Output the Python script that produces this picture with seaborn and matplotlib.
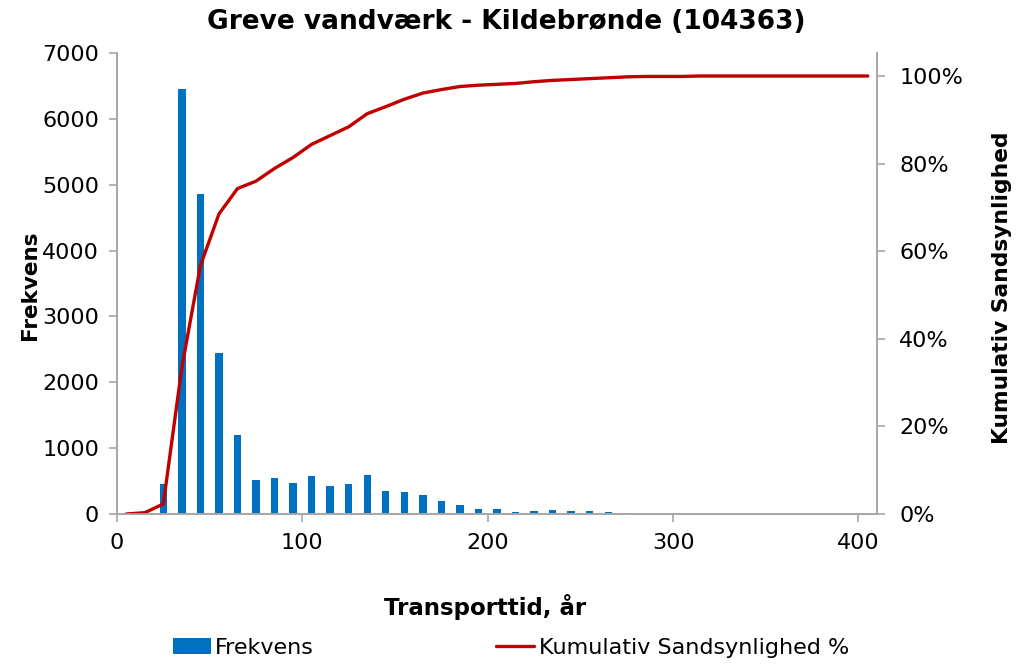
import numpy as np
import pandas as pd
import matplotlib
matplotlib.use("Agg")
import matplotlib.pyplot as plt
import seaborn as sns
from matplotlib.ticker import FuncFormatter

# ---- data ----
# bin midpoints (years) for the histogram bars
bar_x = [25, 35, 45, 55, 65, 75, 85, 95, 105, 115, 125, 135, 145, 155,
         165, 175, 185, 195, 205, 215, 225, 235, 245, 255, 265, 275]
bar_freq = [460, 6450, 4860, 2450, 1200, 516, 546, 475, 582, 422, 450, 595,
            347, 332, 288, 197, 131, 76, 76, 35, 51, 66, 51, 51, 35, 20]

# cumulative curve (percent) at bin midpoints
cum_x = [5, 15, 25, 35, 45, 55, 65, 75, 85, 95, 105, 115, 125, 135, 145,
         155, 165, 175, 185, 195, 205, 215, 225, 235, 245, 255, 265, 275,
         285, 295, 305, 315, 325, 335, 345, 355, 365, 375, 385, 395, 405]
cum_pct = [0.0, 0.3, 2.3, 33.5, 56.7, 68.5, 74.3, 76.0, 78.9, 81.4, 84.4,
           86.4, 88.4, 91.4, 93.0, 94.7, 96.1, 96.9, 97.6, 97.9, 98.1, 98.3,
           98.7, 99.0, 99.2, 99.4, 99.6, 99.8, 99.9, 99.9, 99.9, 100, 100,
           100, 100, 100, 100, 100, 100, 100, 100]

title = "Greve vandværk - Kildebrønde (104363)"
bar_color = "#0070C0"
line_color = "#C00000"
axis_gray = "#A6A6A6"

sns.set_style("white")
plt.rcParams["font.family"] = ["DejaVu Sans"]
plt.rcParams["text.color"] = "black"

bars = pd.DataFrame({"x": bar_x, "freq": bar_freq})
cum = pd.DataFrame({"x": cum_x, "pct": cum_pct})

fig = plt.figure(figsize=(10.24, 6.64), dpi=100)
ax = fig.add_axes([117 / 1024, 1 - 514 / 664, 760 / 1024, 461 / 664])

sns.barplot(data=bars, x="x", y="freq", native_scale=True, width=0.4,
            color=bar_color, saturation=1, linewidth=0, edgecolor="none",
            ax=ax, label="Frekvens")
if ax.get_legend() is not None:
    ax.get_legend().remove()
ax.set_xlim(0, 410)
ax.set_ylim(0, 7000)
ax.set_yticks(range(0, 7001, 1000))
ax.set_xticks([0, 100, 200, 300, 400])
ax.set_xlabel("")
ax.set_ylabel("")

ax2 = ax.twinx()
sns.lineplot(data=cum, x="x", y="pct", color=line_color, lw=2.4, ax=ax2,
             label="Kumulativ Sandsynlighed %", legend=False)
ax2.set_ylim(0, 105.25)
ax2.set_yticks([0, 20, 40, 60, 80, 100])
ax2.yaxis.set_major_formatter(FuncFormatter(lambda v, p: f"{v:.0f}%"))
ax2.set_ylabel("")
ax2.set_xlim(0, 410)

for a in (ax, ax2):
    for s in a.spines.values():
        s.set_color(axis_gray)
        s.set_linewidth(1.2)
    a.spines["top"].set_visible(False)
    a.tick_params(colors=axis_gray, labelcolor="black", labelsize=16,
                  length=6, width=1.2, direction="out")
ax.tick_params(axis="y", left=True, pad=7)
ax.tick_params(axis="x", bottom=True, pad=8)
ax2.tick_params(axis="y", right=True, pad=10)

fig.text(506 / 1024, 1 - 22 / 664, title, ha="center", va="center",
         fontsize=19, fontweight="bold", color="black")
fig.text(485 / 1024, 1 - 607 / 664, "Transporttid, år", ha="center",
         va="center", fontsize=16.5, fontweight="bold", color="black")
fig.text(30 / 1024, 1 - 285 / 664, "Frekvens", ha="center", va="center",
         rotation=90, fontsize=15.5, fontweight="bold", color="black")
fig.text(1002 / 1024, 1 - 288 / 664, "Kumulativ Sandsynlighed", ha="center",
         va="center", rotation=90, fontsize=15.7, fontweight="bold",
         color="black")

h1, l1 = ax.get_legend_handles_labels()
h2, l2 = ax2.get_legend_handles_labels()
leg = fig.legend(h1 + h2, l1 + l2, loc="center",
                 bbox_to_anchor=(511 / 1024, 1 - 648 / 664),
                 ncol=2, frameon=False, fontsize=16, handlelength=1.7,
                 handletextpad=0.2, columnspacing=8.2)
for t in leg.get_texts():
    t.set_color("black")

fig.savefig("out.png", dpi=100)
